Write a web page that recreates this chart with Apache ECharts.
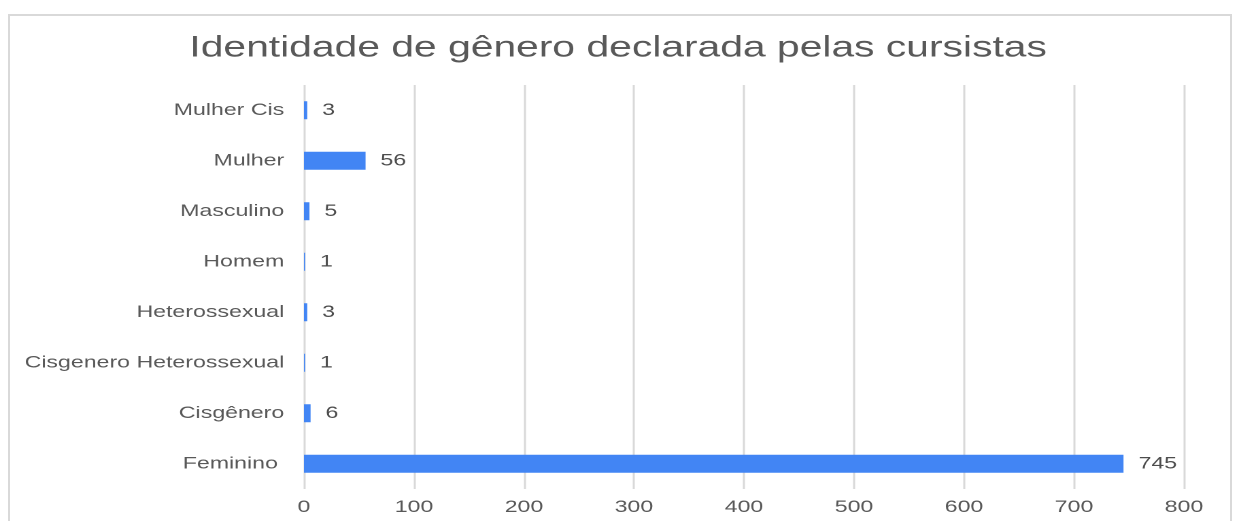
<!DOCTYPE html>
<html>
<head>
<meta charset="utf-8">
<script src="https://cdn.jsdelivr.net/npm/echarts@6/dist/echarts.min.js"></script>
<style>
  html, body { margin: 0; padding: 0; background: #fff; overflow: hidden; }
  #frame {
    position: absolute; left: 8px; top: 14px; width: 1224px; height: 540px;
    border: 2px solid #d9d9d9; box-sizing: border-box;
  }
  /* the source picture is stretched sideways, so the chart is drawn narrow and widened */
  #chart {
    position: absolute; left: 0; top: 0; width: 909px; height: 521px;
    transform: scaleX(1.36); transform-origin: 0 0;
  }
</style>
</head>
<body>
<div id="frame"></div>
<div id="chart"></div>
<script>
// data, bottom to top as drawn
var categories = ["Feminino ", "Cisgênero", "Cisgenero Heterossexual", "Heterossexual", "Homem", "Masculino", "Mulher", "Mulher Cis"];
var counts = [745, 6, 1, 3, 1, 5, 56, 3];
var xTicks = { min: 0, max: 800, step: 100 };
var chartTitle = "Identidade de gênero declarada pelas cursistas";

var font = "'Liberation Sans', Arial, sans-serif";
var myChart = echarts.init(document.getElementById("chart"), null, { devicePixelRatio: 2 });
myChart.setOption({
  backgroundColor: "transparent",
  animation: false,
  title: {
    text: chartTitle,
    left: "center",
    top: 28,
    textStyle: { fontFamily: font, fontWeight: "normal", fontSize: 30, color: "#595959" },
  },
  grid: { left: 223.5, right: 38.4, top: 85, bottom: 32 },
  xAxis: {
    type: "value",
    min: xTicks.min,
    max: xTicks.max,
    interval: xTicks.step,
    axisLine: { show: false },
    axisTick: { show: false },
    axisLabel: { margin: 10, fontFamily: font, fontSize: 17, color: "#595959" },
    splitLine: { show: true, lineStyle: { color: "#d9d9d9", width: 1.5 } },
  },
  yAxis: {
    type: "category",
    data: categories,
    axisLine: { show: false },
    axisTick: { show: false },
    axisLabel: { margin: 14.5, fontFamily: font, fontSize: 17, color: "#595959" },
    splitLine: { show: false },
  },
  series: [
    {
      type: "bar",
      data: counts,
      barWidth: 18,
      itemStyle: { color: "#4285f4" },
      label: {
        show: true,
        position: "right",
        distance: 11,
        fontFamily: font,
        fontSize: 17,
        color: "#4d4d4d",
      },
    },
  ],
});
</script>
</body>
</html>
